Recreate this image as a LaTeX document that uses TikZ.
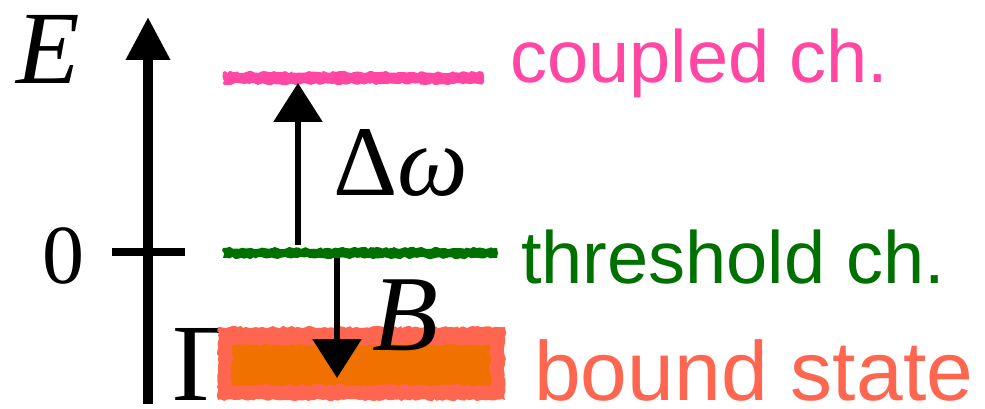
\documentclass[tikz,border=0pt]{standalone}
\usepackage{fontspec}
\setmainfont{Liberation Serif}
\newfontfamily\labfont{Liberation Sans}
\usetikzlibrary{arrows.meta,decorations.pathmorphing}
\definecolor{cpink}{HTML}{FF47A3}
\definecolor{cgreen}{HTML}{007000}
\definecolor{csalmon}{HTML}{FF6650}
\definecolor{corange}{HTML}{F07000}
\tikzset{
  level/.style={inner sep=0pt, outer sep=0pt, decorate,
    decoration={random steps, segment length=3pt, amplitude=1.2pt}},
  lab/.style={inner sep=0pt, anchor=base west, font=\labfont\fontsize{74}{80}\selectfont},
  sym/.style={inner sep=0pt, anchor=base west},
  axis/.style={line width=10pt, -{Triangle[length=43pt,width=42pt]}},
  trans/.style={line width=6pt, -{Triangle[length=39pt,width=48pt]}}
}
\begin{document}
\begin{tikzpicture}[x=1pt,y=-1pt]
\useasboundingbox (0,0) rectangle (985,409);
% energy axis
\coordinate (axb) at (148,404);
\coordinate (axt) at (148,17);
\draw[axis] (axb) -- (axt);
\coordinate (tl) at (112,252);
\coordinate (tr) at (185,252);
\draw[line width=8pt] (tl) -- (tr);
\node[sym, font=\fontsize{104}{104}\selectfont] (E) at (16,84) {\textit{E}};
\node[sym, font=\fontsize{84}{84}\selectfont] (zero) at (42,283) {0};
\node[sym, font=\fontsize{110}{110}\selectfont] (Gam) at (172,400) {Γ};
% levels
\node[level, fill=cpink, minimum width=260pt, minimum height=12pt] (cpl) at (353,78) {};
\node[level, fill=cgreen, minimum width=274pt, minimum height=10pt] (thr) at (360,253) {};
\node[level, fill=csalmon, minimum width=287pt, minimum height=73pt] (bnd) at (361.5,363.5) {};
\node[level, fill=corange, minimum width=258pt, minimum height=40pt] (bndin) at (361,365) {};
% transitions
\coordinate (ua) at (298,245);
\coordinate (ub) at (298,83);
\draw[trans] (ua) -- (ub);
\coordinate (da) at (337,258);
\coordinate (db) at (337,378);
\draw[trans] (da) -- (db);
\node[sym, font=\fontsize{100}{100}\selectfont] (dw) at (333,195) {Δ\textit{ω}};
\node[sym, font=\fontsize{108}{108}\selectfont] (B) at (372,350) {\textit{B}};
% labels
\node[lab, text=cpink] (lc) at (510,83) {coupled ch.};
\node[lab, text=cgreen] (lt) at (521,283) {threshold ch.};
\node[lab, text=csalmon, font=\labfont\fontsize{84}{90}\selectfont] (lb) at (534,400) {bound state};
\end{tikzpicture}
\end{document}
